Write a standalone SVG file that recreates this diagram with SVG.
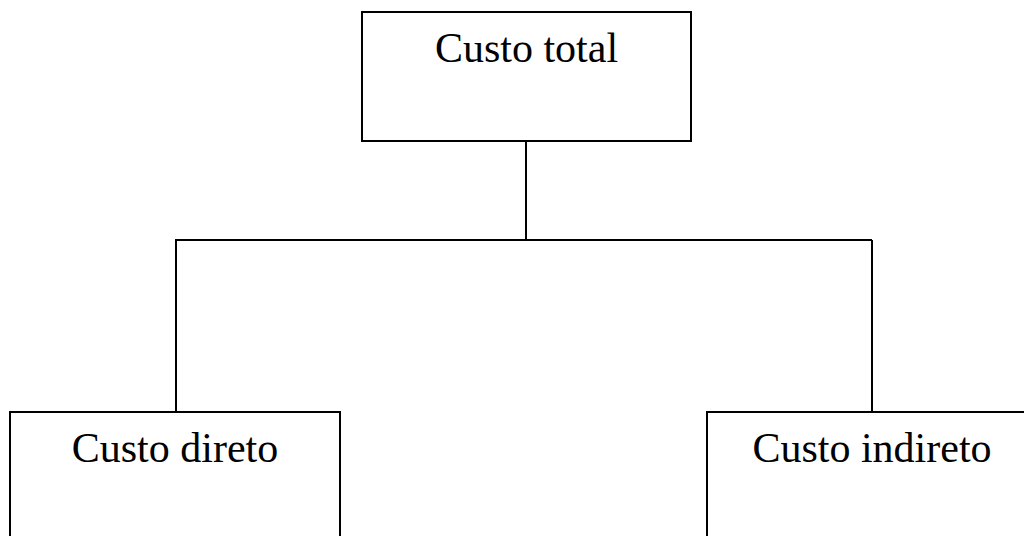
<svg xmlns="http://www.w3.org/2000/svg" width="1024" height="536" viewBox="0 0 1024 536">
<style>
.box{fill:#fff;stroke:#000;stroke-width:2}
.lbl{font-family:"Liberation Serif","Times New Roman",serif;font-size:42px;fill:#000;text-anchor:middle}
.con{fill:none;stroke:#000;stroke-width:2}
</style>
<rect width="1024" height="536" fill="#fff"/>
<g id="connectors">
<path class="con" d="M526,141 V240"/>
<path class="con" d="M175,240 H872"/>
<path class="con" d="M176,240 V412"/>
<path class="con" d="M872,240 V412"/>
</g>
<g id="node-total">
<rect class="box" x="362" y="12" width="329" height="129"/>
<text class="lbl" x="526.5" y="62">Custo total</text>
</g>
<g id="node-direto">
<rect class="box" x="10" y="412" width="330" height="140"/>
<text class="lbl" x="175" y="462">Custo direto</text>
</g>
<g id="node-indireto">
<rect class="box" x="707" y="412" width="330" height="140"/>
<text class="lbl" x="872" y="462">Custo indireto</text>
</g>
</svg>
